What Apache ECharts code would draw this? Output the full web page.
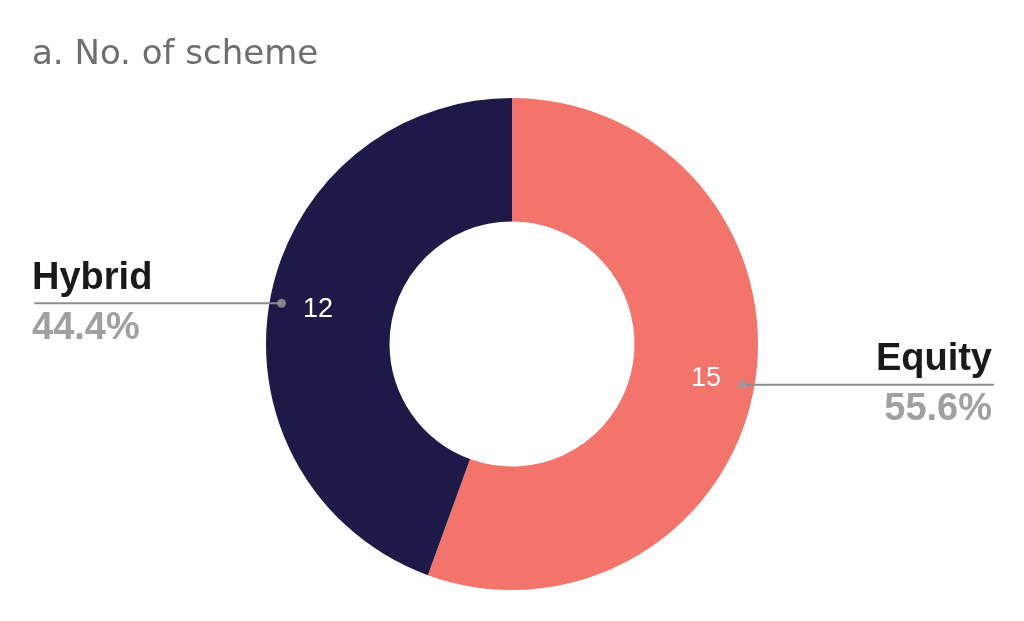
<!DOCTYPE html>
<html>
<head>
<meta charset="UTF-8">
<title>No. of scheme</title>
<style>
html,body{margin:0;padding:0;background:#fff;}
#picContainer{width:1024px;height:621px;}
</style>
</head>
<body>
<div id="picContainer"></div>
<script src="https://cdn.jsdelivr.net/npm/echarts@6/dist/echarts.min.js"></script>
<script>
var categories = ['Equity', 'Hybrid'];
var schemeCounts = [15, 12];

main();
function main(){
    var pieData = [];
    for (var i = 0; i < categories.length; i++) {
        pieData.push({name: categories[i], value: schemeCounts[i]});
    }
    // mid angle of every slice, for the dots on the polar axis
    var total = 0;
    for (var i = 0; i < schemeCounts.length; i++) total += schemeCounts[i];
    var dots = [];
    var acc = 0;
    for (var i = 0; i < schemeCounts.length; i++) {
        dots.push([234, (acc + schemeCounts[i] / 2) / total * 360]);
        acc += schemeCounts[i];
    }
    drawPic(pieData, dots);
}

function drawPic(pieData, dots){
    var font = "'Liberation Sans', Arial, sans-serif";
    var myChart = echarts.init(document.getElementById('picContainer'));
    var option = {
        animation: false,
        color: ['#f2746b', '#1e1a47'],
        title: {
            text: 'a. No. of scheme',
            left: 32,
            top: 38,
            padding: 0,
            textStyle: {fontSize: 34, fontWeight: 'normal', color: '#6e6e6e', fontFamily: "'DejaVu Sans', sans-serif"}
        },
        polar: {center: [512, 344], radius: 246},
        angleAxis: {type: 'value', min: 0, max: 360, startAngle: 90, clockwise: true, show: false},
        radiusAxis: {type: 'value', min: 0, max: 246, show: false},
        series: [
            {
                name: 'slices',
                type: 'pie',
                center: [512, 344],
                radius: [122.5, 246],
                startAngle: 90,
                silent: true,
                emphasis: {disabled: true},
                label: {show: false},
                labelLine: {show: false},
                data: pieData
            },
            {
                name: 'counts',
                type: 'pie',
                center: [512, 344],
                radius: [142, 246],
                startAngle: 90,
                silent: true,
                z: 3,
                emphasis: {disabled: true},
                itemStyle: {color: 'transparent'},
                label: {
                    show: true,
                    position: 'inside',
                    formatter: '{c}',
                    color: '#ffffff',
                    fontSize: 27,
                    fontFamily: font,
                    textBorderWidth: 0
                },
                labelLine: {show: false},
                data: pieData
            },
            {
                name: 'names',
                type: 'pie',
                center: [512, 344],
                radius: [0, 234],
                startAngle: 90,
                silent: true,
                z: 4,
                percentPrecision: 1,
                emphasis: {disabled: true},
                itemStyle: {color: 'transparent'},
                label: {
                    show: true,
                    position: 'outside',
                    alignTo: 'edge',
                    edgeDistance: 32,
                    distanceToLabelLine: -118,
                    formatter: '{n|{b}}\n{p|{d}%}',
                    rich: {
                        n: {fontSize: 38, fontWeight: 'bold', color: '#1a1a1a', lineHeight: 50, fontFamily: font},
                        p: {fontSize: 38, fontWeight: 'bold', color: '#a0a0a0', lineHeight: 50, fontFamily: font}
                    }
                },
                labelLine: {
                    show: true,
                    length: 0,
                    length2: 10,
                    lineStyle: {color: '#8c8c8c', width: 2}
                },
                data: pieData
            },
            {
                name: 'dots',
                type: 'scatter',
                coordinateSystem: 'polar',
                symbolSize: 9,
                silent: true,
                z: 5,
                itemStyle: {color: '#9a9a9a'},
                data: dots
            }
        ]
    };
    myChart.setOption(option);
}
</script>
</body>
</html>
